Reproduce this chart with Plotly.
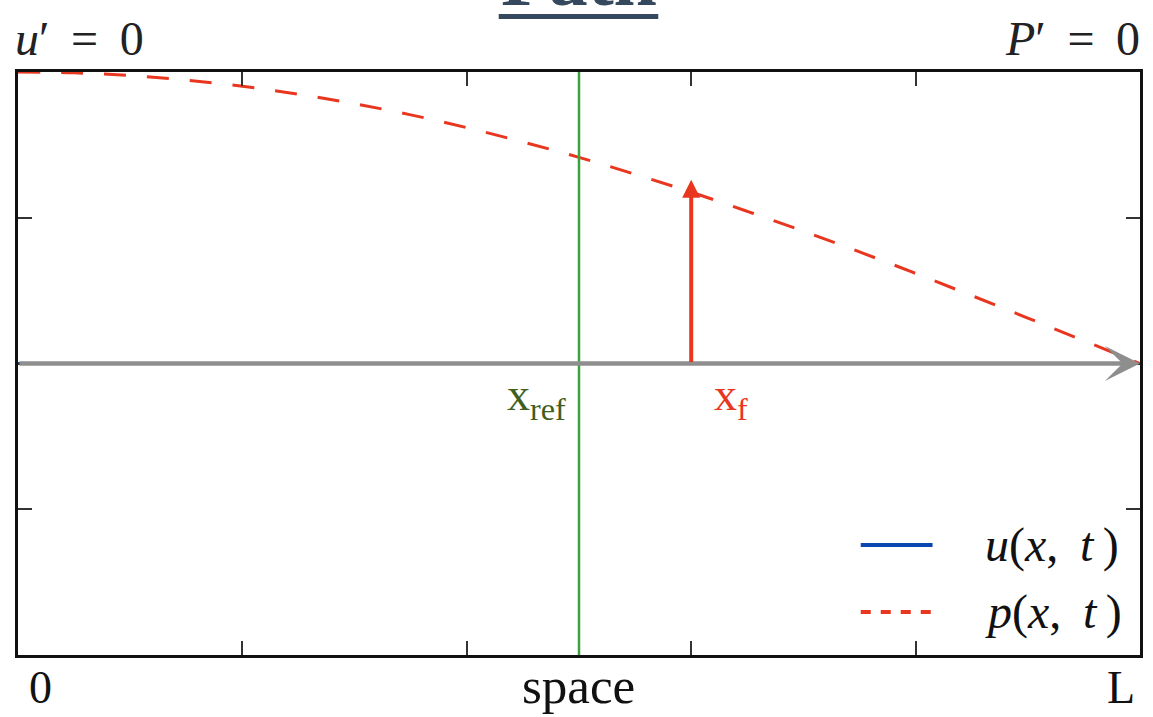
import plotly.graph_objects as go

# ---- data ----
x_space = [0.0, 0.05, 0.10, 0.15, 0.20, 0.25, 0.30, 0.35, 0.40, 0.45, 0.50,
           0.55, 0.60, 0.65, 0.70, 0.75, 0.80, 0.85, 0.90, 0.95, 1.0]
p_values = [1.0, 0.997, 0.988, 0.972, 0.951, 0.924, 0.891, 0.853, 0.809, 0.760, 0.707,
            0.649, 0.588, 0.522, 0.454, 0.383, 0.309, 0.233, 0.156, 0.078, 0.0]
u_values = [0.0] * len(x_space)
x_ref = 0.5
x_f = 0.6
x_f_arrow_top = 0.63
x_tick_vals = [0.2, 0.4, 0.6, 0.8]
y_tick_vals = [-0.5, 0.0, 0.5]
x_range = [0.0, 1.0]
y_range = [-1.0, 1.0]

# ---- pixel helpers for the 1153x717 canvas ----
W, H = 1153, 717
L_PX, R_PX, T_PX, B_PX = 18, 1143, 72, 655


def PX(px):
    return (px - L_PX) / (R_PX - L_PX)


def PY(py):
    return (B_PX - py) / (B_PX - T_PX)


SERIF = "Liberation Serif, DejaVu Serif, serif"
RED = "#e8361f"
BLUE = "#0a47b0"
GREEN = "#3aa23a"
DKGREEN = "#3f5f1e"
GRAY = "#8e8e8e"
NAVY = "#34495e"
SP = "\u2009"  # thin space

fig = go.Figure()

# u(x,t) (lies on the axis, hidden below the grey arrow)
fig.add_trace(go.Scatter(x=x_space, y=u_values, mode="lines",
                         line=dict(color=BLUE, width=3), name="u(x,t)",
                         showlegend=False, hoverinfo="skip"))
# p(x,t) dashed
fig.add_trace(go.Scatter(x=x_space, y=p_values, mode="lines",
                         line=dict(color=RED, width=3, dash="22px,21px", shape="spline"),
                         name="p(x,t)", showlegend=False, hoverinfo="skip"))
# x_ref vertical green line
fig.add_trace(go.Scatter(x=[x_ref, x_ref], y=y_range, mode="lines",
                         line=dict(color=GREEN, width=2.5),
                         showlegend=False, hoverinfo="skip"))

annotations = []
# grey horizontal arrow along the space axis
annotations.append(dict(x=x_range[1], y=0, ax=x_range[0], ay=0,
                        xref="x", yref="y", axref="x", ayref="y",
                        showarrow=True, arrowhead=3, arrowsize=1.3, arrowwidth=4.5,
                        arrowcolor=GRAY, text=""))
# red arrow at x_f
annotations.append(dict(x=x_f, y=x_f_arrow_top, ax=x_f, ay=0,
                        xref="x", yref="y", axref="x", ayref="y",
                        showarrow=True, arrowhead=2, arrowsize=0.9, arrowwidth=4,
                        arrowcolor=RED, text=""))

# labels
annotations += [
    dict(x=PX(569), y=PY(398), xref="paper", yref="paper", xanchor="right", yanchor="middle",
         text="x<sub>ref</sub>", showarrow=False, font=dict(family=SERIF, size=46, color=DKGREEN)),
    dict(x=PX(714), y=PY(398), xref="paper", yref="paper", xanchor="left", yanchor="middle",
         text="x<sub>f</sub>", showarrow=False, font=dict(family=SERIF, size=46, color=RED)),
    dict(x=PX(13), y=PY(38), xref="paper", yref="paper", xanchor="left", yanchor="middle",
         text="<i>u</i>′" + SP + " =" + SP + " 0", showarrow=False,
         font=dict(family=SERIF, size=48, color="#222")),
    dict(x=PX(1145), y=PY(38), xref="paper", yref="paper", xanchor="right", yanchor="middle",
         text="<i>P</i>′" + SP + " =" + SP + " 0", showarrow=False,
         font=dict(family=SERIF, size=48, color="#222")),
    dict(x=PX(41), y=PY(687), xref="paper", yref="paper", xanchor="center", yanchor="middle",
         text="0", showarrow=False, font=dict(family=SERIF, size=46, color="#111")),
    dict(x=PX(580), y=PY(686), xref="paper", yref="paper", xanchor="center", yanchor="middle",
         text="space", showarrow=False, font=dict(family=SERIF, size=51, color="#111")),
    dict(x=PX(1124), y=PY(687), xref="paper", yref="paper", xanchor="center", yanchor="middle",
         text="L", showarrow=False, font=dict(family=SERIF, size=46, color="#111")),
    # legend texts
    dict(x=PX(986), y=PY(545), xref="paper", yref="paper", xanchor="left", yanchor="middle",
         text="<i>u</i>(<i>x</i>," + SP + " <i>t</i>" + SP + ")", showarrow=False,
         font=dict(family=SERIF, size=48, color="#111")),
    dict(x=PX(986), y=PY(612), xref="paper", yref="paper", xanchor="left", yanchor="middle",
         text="<i>p</i>(<i>x</i>," + SP + " <i>t</i>" + SP + ")", showarrow=False,
         font=dict(family=SERIF, size=48, color="#111")),
    # cut-off title at the top (as in the reference)
    dict(x=PX(580), y=PY(8), xref="paper", yref="paper", xanchor="center", yanchor="bottom",
         yshift=-16, text="<b>Path</b>", showarrow=False,
         font=dict(family=SERIF, size=78, color=NAVY)),
]

shapes = [
    # legend samples
    dict(type="line", xref="paper", yref="paper", x0=PX(863), x1=PX(935), y0=PY(545), y1=PY(545),
         line=dict(color=BLUE, width=4)),
    dict(type="line", xref="paper", yref="paper", x0=PX(863), x1=PX(935), y0=PY(612), y1=PY(612),
         line=dict(color=RED, width=4, dash="10px,10px")),
    # title underline
    dict(type="line", xref="paper", yref="paper", x0=PX(500), x1=PX(660), y0=PY(16.5), y1=PY(16.5),
         line=dict(color=NAVY, width=5)),
]

axis_common = dict(showline=True, linecolor="#111", linewidth=2.5, mirror="ticks",
                   ticks="inside", ticklen=14, tickwidth=1.5, tickcolor="#333",
                   showticklabels=False, showgrid=False, zeroline=False)

fig.update_layout(
    width=W, height=H,
    margin=dict(l=L_PX, r=W - R_PX, t=T_PX, b=H - B_PX),
    paper_bgcolor="white", plot_bgcolor="white",
    xaxis=dict(range=x_range, tickvals=x_tick_vals, **axis_common),
    yaxis=dict(range=y_range, tickvals=y_tick_vals, **axis_common),
    annotations=annotations, shapes=shapes, showlegend=False,
)

fig.write_html("out.html")
